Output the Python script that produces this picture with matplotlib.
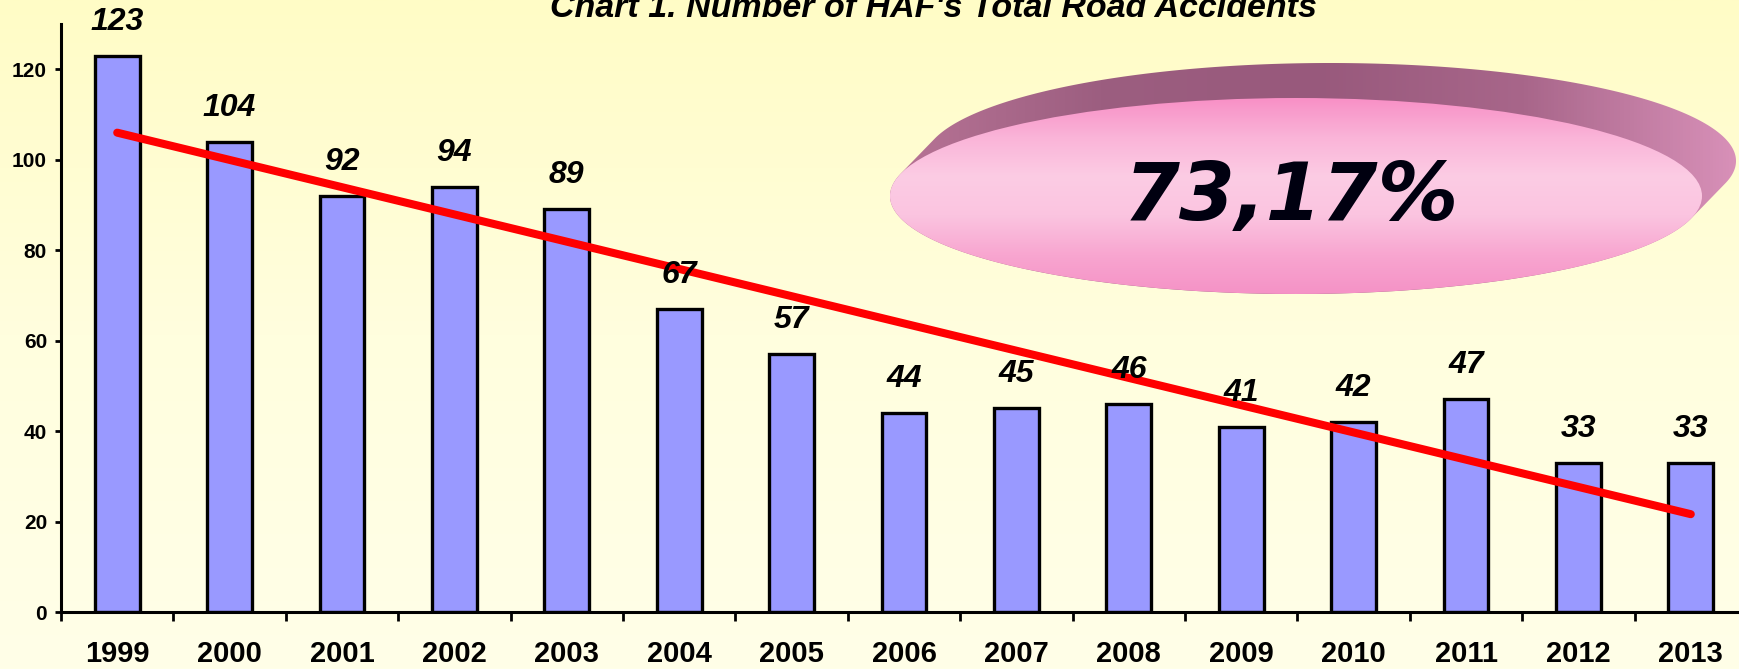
import numpy as np
import matplotlib
matplotlib.use("Agg")
import matplotlib.pyplot as plt
from matplotlib.patches import Polygon, Ellipse
from matplotlib.colors import LinearSegmentedColormap

# ---- data ----
years = ["1999", "2000", "2001", "2002", "2003", "2004", "2005", "2006",
         "2007", "2008", "2009", "2010", "2011", "2012", "2013"]
accidents = [123, 104, 92, 94, 89, 67, 57, 44, 45, 46, 41, 42, 47, 33, 33]
y_ticks = [0, 20, 40, 60, 80, 100, 120]
title_text = "Chart 1. Number of HAF's Total Road Accidents"
badge_text = "73,17%"

W, H = 1739, 669
fig = plt.figure(figsize=(W / 100, H / 100), dpi=100)

# ---- background gradient ----
bg = fig.add_axes([0, 0, 1, 1], zorder=-10)
bg.set_axis_off()
bg_cmap = LinearSegmentedColormap.from_list("bg", ["#FFFCC6", "#FFFEDE", "#FFFFE8"])
bg.imshow(np.linspace(0, 1, 256).reshape(-1, 1), aspect="auto", cmap=bg_cmap,
          extent=[0, 1, 0, 1], origin="upper")
bg.set_xlim(0, 1); bg.set_ylim(0, 1)

# ---- main axes ----
left_px, right_px, bottom_px, top_px = 61, 1747, 612, 24
ax = fig.add_axes([left_px / W, 1 - bottom_px / H,
                   (right_px - left_px) / W, (bottom_px - top_px) / H], zorder=1)
ax.set_facecolor("none")
x = np.arange(len(years))
ax.bar(x, accidents, width=0.4, color="#9999FF", edgecolor="black", linewidth=2.4, zorder=2)

coef = np.polyfit(x, accidents, 1)
ax.plot(x, np.polyval(coef, x), color="#FF0000", lw=5.8, solid_capstyle="round", zorder=4)

for xi, v in zip(x, accidents):
    ax.annotate(str(v), (xi, v), xytext=(0, 24.5), textcoords="offset points",
                ha="center", va="center", fontsize=23, fontweight="bold",
                style="italic", family="Liberation Sans", zorder=6)

ax.set_xlim(-0.5, len(years) - 0.5)
ax.set_ylim(0, 130)
for s in ["top", "right"]:
    ax.spines[s].set_visible(False)
for s in ["left", "bottom"]:
    ax.spines[s].set_linewidth(2.2)
ax.set_yticks(y_ticks)
ax.set_yticklabels([str(t) for t in y_ticks], fontsize=15, fontweight="bold",
                   family="Liberation Sans")
ax.tick_params(axis="y", direction="out", length=4, width=2, pad=6)
ax.set_xticks(x)
ax.set_xticklabels(years, fontsize=21, fontweight="bold", family="Liberation Sans")
ax.tick_params(axis="x", which="major", length=0, pad=20)
ax.set_xticks(np.arange(-0.5, len(years), 1), minor=True)
ax.tick_params(axis="x", which="minor", direction="out", length=6.5, width=2)

# ---- title ----
fig.text(933 / W, 1 - 17 / H, title_text, ha="center", va="baseline", fontsize=24.5,
         fontweight="bold", style="italic", family="Liberation Sans")

# ---- badge (3D ellipse) ----
ov = fig.add_axes([0, 0, 1, 1], zorder=2)
ov.set_axis_off()
ov.set_facecolor("none")
ov.set_xlim(0, W); ov.set_ylim(H, 0)

cx, cy, ew, eh = 1296, 196, 812, 196
dx, dy = 34, -35
a, b = ew / 2, eh / 2
th = np.linspace(0, 2 * np.pi, 721)
px = cx + a * np.cos(th)
py = cy + b * np.sin(th)
nx = np.cos(th) / a
ny = np.sin(th) / b
sel = (nx * dx + ny * dy) > 0
bx = px + np.where(sel, dx, 0)
byy = py + np.where(sel, dy, 0)
back = Polygon(np.column_stack([bx, byy]), closed=True, facecolor="none", edgecolor="none")
ov.add_patch(back)
back_cmap = LinearSegmentedColormap.from_list(
    "back", ["#B87496", "#9C5E80", "#98597C", "#A8668A", "#D890B8"])
gx = np.linspace(0, 1, 256).reshape(1, -1)
im = ov.imshow(gx, aspect="auto", cmap=back_cmap,
               extent=[cx - a, cx + a + dx, cy + b, cy - b + dy], zorder=1)
im.set_clip_path(back)

front = Ellipse((cx, cy), ew, eh, facecolor="none", edgecolor="none")
ov.add_patch(front)
front_cmap = LinearSegmentedColormap.from_list(
    "front", ["#F890C6", "#FAB4D8", "#FCCCE4", "#FBC4E0", "#F8A6D0", "#F592C6"])
gy = np.linspace(0, 1, 256).reshape(-1, 1)
im2 = ov.imshow(gy, aspect="auto", cmap=front_cmap,
                extent=[cx - a, cx + a, cy + b, cy - b], origin="upper", zorder=2)
im2.set_clip_path(front)
ov.set_xlim(0, W); ov.set_ylim(H, 0)

ov.text(1291, 198, badge_text, ha="center", va="center", fontsize=58,
        fontweight="bold", style="italic", family="DejaVu Sans", color="#000010", zorder=3)

fig.savefig("out.png", dpi=100)
